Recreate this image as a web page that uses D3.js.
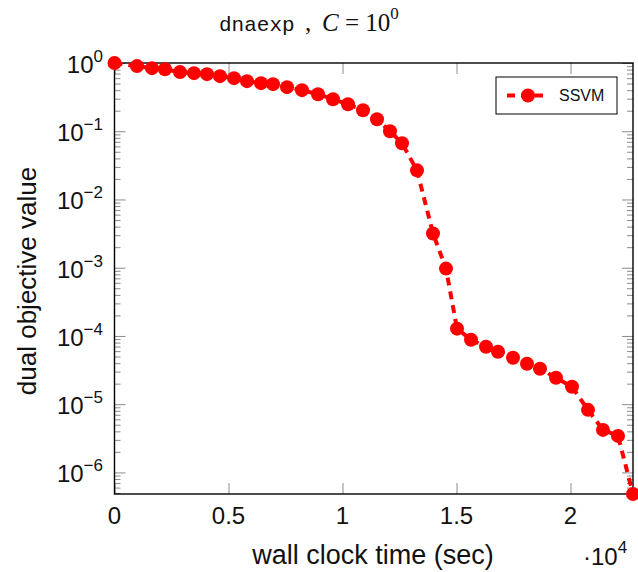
<!DOCTYPE html>
<html lang="en">
<head>
<meta charset="UTF-8">
<title>dnaexp, C = 10^0</title>
<script src="https://d3js.org/d3.v7.min.js"></script>
<style>
  body { margin: 0; background: #fff; }
  svg { font-family: "Liberation Sans", Arial, sans-serif; }
  .tick line { stroke: #8c8c8c; stroke-width: 1; }
</style>
</head>
<body>
<div id="chart"></div>
<script>
// wall clock time (sec) and dual objective value
const timeVals = [0, 987, 1645, 2215, 2873, 3487, 4057, 4627, 5241, 5811, 6425, 6952, 7566,
  8224, 8925, 9583, 10241, 10899, 11513, 12083, 12610, 13268, 13969, 14539, 15022, 15636,
  16294, 16820, 17478, 18092, 18662, 19364, 20066, 20768, 21425, 22083, 22741];
const dualVals = [1.0, 0.90, 0.84, 0.81, 0.735, 0.71, 0.687, 0.642, 0.60, 0.542, 0.507, 0.49,
  0.443, 0.40, 0.349, 0.295, 0.249, 0.203, 0.150, 0.100, 0.0667, 0.0267, 0.00318, 9.7e-4,
  1.28e-4, 8.8e-5, 6.96e-5, 5.88e-5, 4.8e-5, 3.92e-5, 3.3e-5, 2.44e-5, 1.80e-5, 8.26e-6,
  4.2e-6, 3.43e-6, 4.83e-7];
const xTicks = [0, 5000, 10000, 15000, 20000];
const xTickLabels = ["0", "0.5", "1", "1.5", "2"];
const yExps = [0, -1, -2, -3, -4, -5, -6];
const seriesName = "SSVM";

const data = timeVals.map((t, i) => ({t, v: dualVals[i]}));

const svg = d3.select("#chart").append("svg")
  .attr("width", 638).attr("height", 572);

const pLeft = 114.5, pRight = 633, pTop = 63, pBottom = 494;

const x = d3.scaleLinear().domain([0, d3.max(timeVals)]).range([pLeft, pRight]);
const y = d3.scaleLog().domain([d3.min(dualVals), d3.max(dualVals)]).range([pBottom, pTop]);

// minor y ticks 2..9 per decade
const minor = [];
for (let e = -7; e <= 0; e++) for (let k = 2; k <= 9; k++) {
  const v = k * Math.pow(10, e);
  if (v >= y.domain()[0] && v <= y.domain()[1]) minor.push(v);
}
const majorY = yExps.map(e => Math.pow(10, e));

function tickAxis(axis, tx, ty) {
  const g = svg.append("g").attr("transform", `translate(${tx},${ty})`).call(axis);
  g.select(".domain").remove();
  g.selectAll("text").remove();
  return g;
}
tickAxis(d3.axisLeft(y).tickValues(majorY).tickSize(-11), pLeft, 0);
tickAxis(d3.axisLeft(y).tickValues(minor).tickSize(-6), pLeft, 0);
tickAxis(d3.axisRight(y).tickValues(majorY).tickSize(-11), pRight, 0);
tickAxis(d3.axisRight(y).tickValues(minor).tickSize(-6), pRight, 0);
tickAxis(d3.axisBottom(x).tickValues(xTicks).tickSize(-11), 0, pBottom);
tickAxis(d3.axisTop(x).tickValues(xTicks).tickSize(-11), 0, pTop);

// frame
svg.append("rect")
  .attr("x", pLeft).attr("y", pTop)
  .attr("width", pRight - pLeft).attr("height", pBottom - pTop)
  .attr("fill", "none").attr("stroke", "#000").attr("stroke-width", 1.4);

// x tick labels
svg.append("g").selectAll("text").data(xTicks).join("text")
  .attr("x", d => x(d)).attr("y", pBottom + 30)
  .attr("text-anchor", "middle").attr("font-size", 24).attr("fill", "#111")
  .text((d, i) => xTickLabels[i]);

// y tick labels 10^e
const yl = svg.append("g").selectAll("text").data(yExps).join("text")
  .attr("x", 103).attr("y", d => y(Math.pow(10, d)) + 10)
  .attr("text-anchor", "end").attr("font-size", 24).attr("fill", "#111");
yl.append("tspan").text("10");
yl.append("tspan").attr("dy", -11).attr("font-size", 17)
  .text(d => d === 0 ? "0" : "\u2212" + Math.abs(d));

// series
svg.append("path").datum(data)
  .attr("fill", "none").attr("stroke", "#ff0000").attr("stroke-width", 4)
  .attr("stroke-dasharray", "8,6")
  .attr("d", d3.line().x(d => x(d.t)).y(d => y(d.v)));

svg.append("g").selectAll("circle").data(data).join("circle")
  .attr("cx", d => x(d.t)).attr("cy", d => y(d.v)).attr("r", 7)
  .attr("fill", "#ff0000");

// legend
const lg = svg.append("g");
lg.append("rect").attr("x", 496).attr("y", 77).attr("width", 121).attr("height", 37)
  .attr("fill", "#fff").attr("stroke", "#000").attr("stroke-width", 1);
lg.append("line").attr("x1", 507).attr("x2", 546).attr("y1", 95.5).attr("y2", 95.5)
  .attr("stroke", "#ff0000").attr("stroke-width", 4).attr("stroke-dasharray", "8,6");
lg.append("circle").attr("cx", 528).attr("cy", 95.5).attr("r", 7).attr("fill", "#ff0000");
lg.append("text").attr("x", 559).attr("y", 101).attr("font-size", 16).attr("fill", "#111")
  .text(seriesName);

// axis labels
svg.append("text").attr("x", 373).attr("y", 564).attr("text-anchor", "middle")
  .attr("font-size", 27).attr("fill", "#111").text("wall clock time (sec)");
svg.append("text").attr("transform", "translate(36,281) rotate(-90)")
  .attr("text-anchor", "middle").attr("font-size", 26).attr("fill", "#111")
  .text("dual objective value");

// x multiplier
const mult = svg.append("text").attr("x", 583).attr("y", 565).attr("font-size", 24).attr("fill", "#111");
mult.append("tspan").text("\u00b710");
mult.append("tspan").attr("dy", -12).attr("font-size", 17).text("4");

// title
const title = svg.append("text").attr("y", 31).attr("fill", "#111")
  .style("white-space", "pre");
title.append("tspan").attr("x", 219).attr("font-family", "Liberation Mono, monospace")
  .attr("font-size", 21).text("dnaexp");
title.append("tspan").attr("x", 305).attr("font-family", "Liberation Serif, serif")
  .attr("font-size", 25).text(",");
title.append("tspan").attr("x", 322).attr("font-family", "Liberation Serif, serif")
  .attr("font-size", 25).attr("font-style", "italic").text("C");
title.append("tspan").attr("font-family", "Liberation Serif, serif")
  .attr("font-size", 25).text(" = 10");
title.append("tspan").attr("dy", -12).attr("font-family", "Liberation Serif, serif")
  .attr("font-size", 17).text("0");
</script>
</body>
</html>
